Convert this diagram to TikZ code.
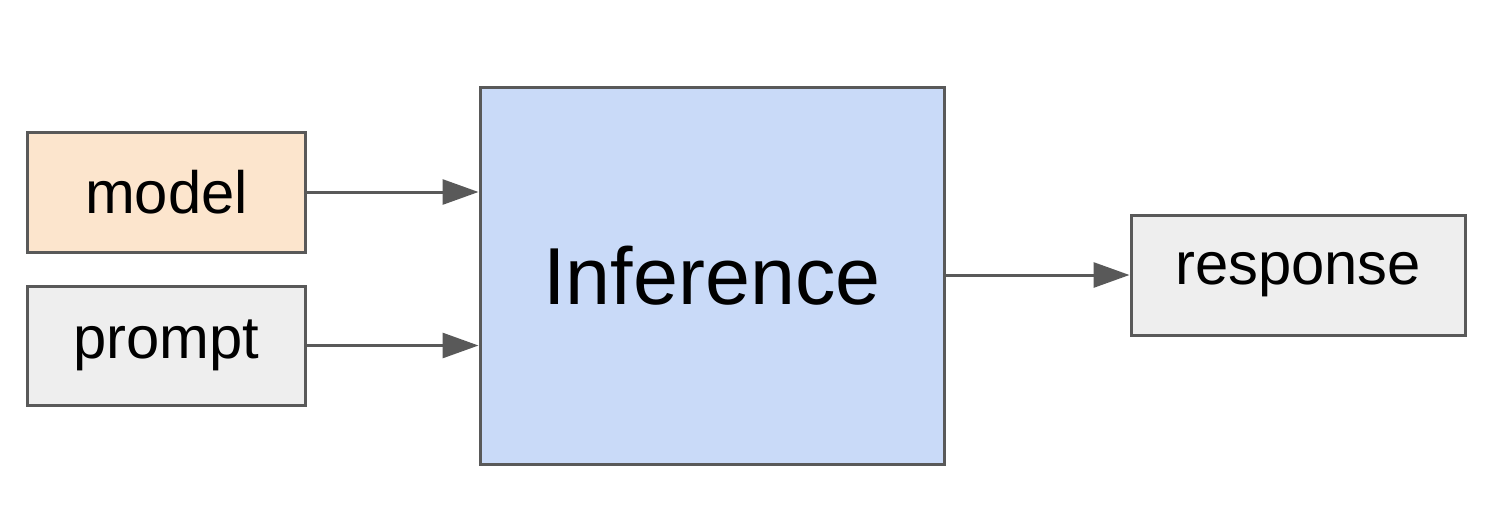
\documentclass[tikz,border=0pt]{standalone}
\usepackage{fontspec}
\setmainfont{Liberation Sans}
\usetikzlibrary{arrows.meta}
\definecolor{edgecol}{HTML}{595959}
\definecolor{modelcol}{HTML}{FCE5CD}
\definecolor{infcol}{HTML}{C9DAF8}
\definecolor{greycol}{HTML}{EEEEEE}
\tikzset{
  box/.style={draw=edgecol, line width=0.03cm, inner sep=0pt, font=\fontsize{17}{20}\selectfont},
  flow/.style={draw=edgecol, line width=0.03cm, -{Triangle[length=0.36cm,width=0.25cm]}}
}

\begin{document}
\begin{tikzpicture}

    \useasboundingbox (0, 0) rectangle (14.98, -5.19);

    \node[box, fill=modelcol, minimum width=2.77cm, minimum height=1.2cm] (model) at (1.665, -1.92) {model};
    \node[box, fill=greycol, minimum width=2.77cm, minimum height=1.19cm] (prompt) at (1.665, -3.455) {prompt};
    \node[box, fill=infcol, minimum width=4.64cm, minimum height=3.77cm, font=\fontsize{23}{27}\selectfont] (inference) at (7.12, -2.755) {Inference};
    \node[box, fill=greycol, minimum width=3.34cm, minimum height=1.2cm] (response) at (12.98, -2.75) {response};

    \draw[flow] (model.east) -- (model.east -| inference.west);
    \draw[flow] (prompt.east) -- (prompt.east -| inference.west);
    \draw[flow] (inference.east |- response.west) -- (response.west);

\end{tikzpicture}
\end{document}
